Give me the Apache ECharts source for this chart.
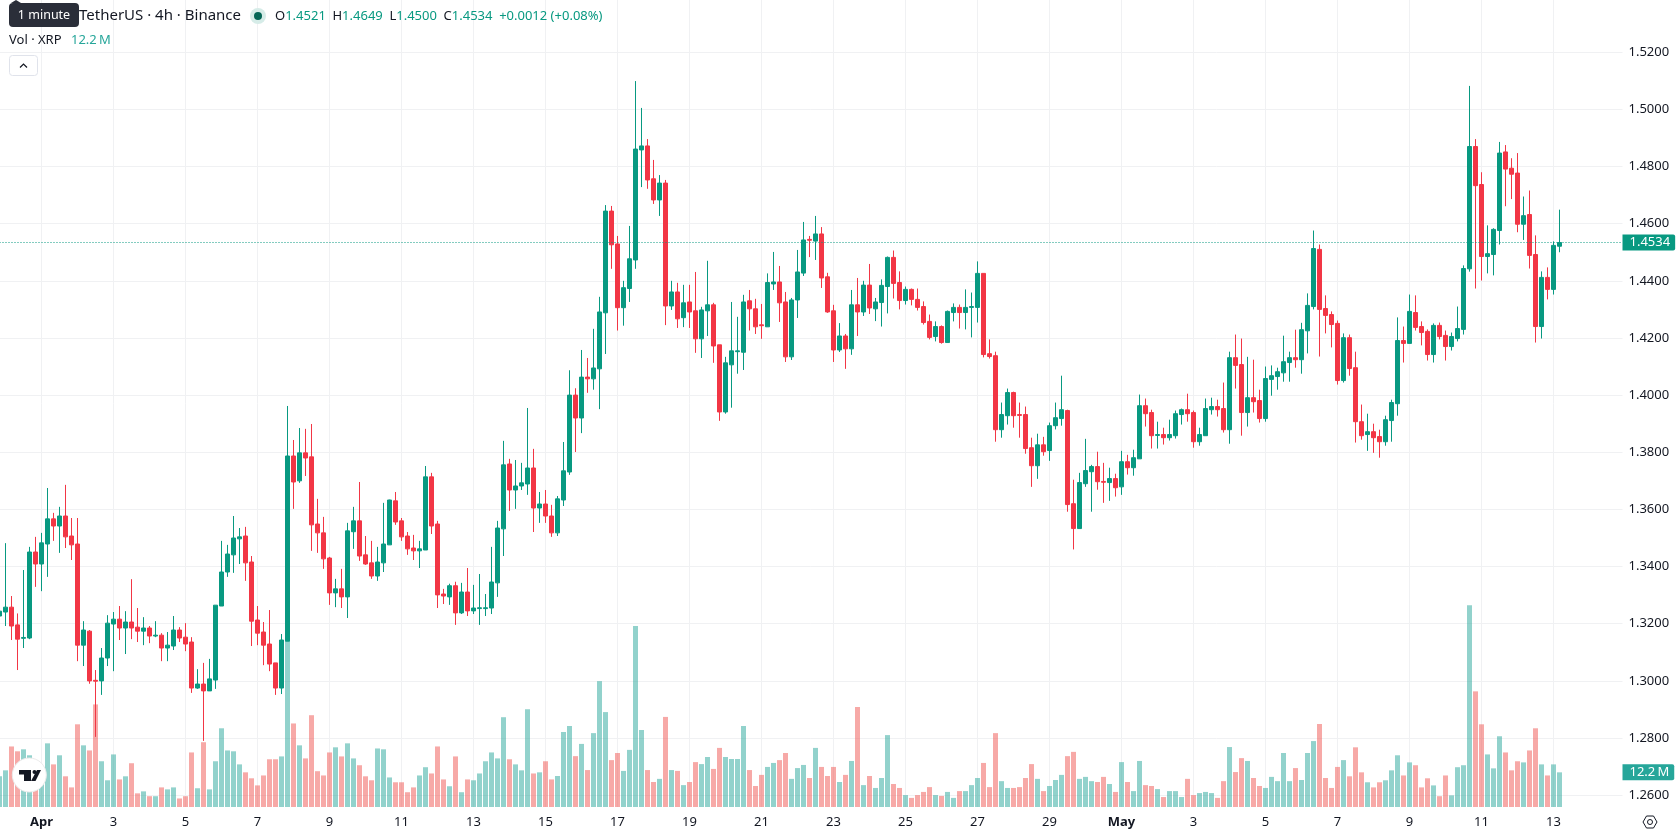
<!DOCTYPE html>
<html>
<head>
<meta charset="utf-8">
<title>XRP / TetherUS 4h</title>
<style>html,body{margin:0;padding:0;background:#fff}#chart{width:1678px;height:835px}</style>
<script src="https://cdn.jsdelivr.net/npm/echarts@6/dist/echarts.min.js"></script>
</head>
<body>
<div id="chart"></div>
<script>
// XRP/USDT four-hour candles, one row per ten bars.
const opens = [
1.3227,1.3241,1.3258,1.3196,1.3149,1.3150,1.3451,1.3409,1.3479,1.3567,
1.3542,1.3577,1.3507,1.3479,1.3125,1.3174,1.3002,1.3000,1.3080,1.3199,
1.3216,1.3185,1.3206,1.3188,1.3174,1.3185,1.3157,1.3160,1.3115,1.3122,
1.3178,1.3153,1.3136,1.2975,1.2989,1.2965,1.3003,1.3262,1.3381,1.3441,
1.3497,1.3507,1.3416,1.3213,1.3171,1.3129,1.3063,1.2975,1.3139,1.3787,
1.3700,1.3798,1.3784,1.3549,1.3518,1.3430,1.3308,1.3322,1.3294,1.3522,
1.3560,1.3441,1.3413,1.3367,1.3413,1.3476,1.3630,1.3560,1.3507,1.3465,
1.3455,1.3458,1.3714,1.3549,1.3304,1.3294,1.3333,1.3238,1.3311,1.3245,
1.3253,1.3253,1.3255,1.3343,1.3532,1.3759,1.3668,1.3682,1.3689,1.3745,
1.3605,1.3619,1.3577,1.3518,1.3633,1.3731,1.4000,1.3920,1.4063,1.4057,
1.4092,1.4288,1.4644,1.4529,1.4306,1.4373,1.4473,1.4858,1.4872,1.4757,
1.4683,1.4742,1.4312,1.4361,1.4271,1.4326,1.4295,1.4197,1.4295,1.4316,
1.4176,1.3941,1.4106,1.4152,1.4150,1.4330,1.4302,1.4246,1.4239,1.4389,
1.4396,1.4326,1.4134,1.4333,1.4427,1.4545,1.4539,1.4564,1.4414,1.4295,
1.4158,1.4207,1.4162,1.4316,1.4291,1.4385,1.4302,1.4324,1.4380,1.4482,
1.4394,1.4331,1.4370,1.4335,1.4310,1.4258,1.4205,1.4240,1.4184,1.4289,
1.4307,1.4289,1.4307,1.4307,1.4426,1.4145,1.4138,1.3879,1.3928,1.4009,
1.3932,1.3932,1.3816,1.3753,1.3826,1.3806,1.3893,1.3918,1.3946,1.3620,
1.3533,1.3690,1.3732,1.3750,1.3698,1.3694,1.3708,1.3679,1.3767,1.3746,
1.3777,1.3963,1.3939,1.3859,1.3862,1.3851,1.3858,1.3932,1.3949,1.3939,
1.3837,1.3858,1.3949,1.3960,1.3953,1.3879,1.4131,1.4107,1.3939,1.3991,
1.3981,1.3918,1.4055,1.4065,1.4078,1.4114,1.4131,1.4124,1.4225,1.4310,
1.4510,1.4303,1.4282,1.4251,1.4051,1.4201,1.4096,1.3907,1.3862,1.3872,
1.3855,1.3837,1.3911,1.3970,1.4191,1.4181,1.4289,1.4240,1.4223,1.4142,
1.4244,1.4209,1.4170,1.4198,1.4230,1.4442,1.4870,1.4737,1.4485,1.4492,
1.4576,1.4851,1.4794,1.4777,1.4598,1.4632,1.4492,1.4240,1.4412,1.4370,
1.4521];
const closes = [
1.3244,1.3258,1.3192,1.3146,1.3152,1.3451,1.3409,1.3483,1.3567,1.3542,
1.3577,1.3504,1.3476,1.3125,1.3178,1.3000,1.2999,1.3080,1.3202,1.3216,
1.3185,1.3206,1.3185,1.3174,1.3185,1.3157,1.3160,1.3115,1.3125,1.3178,
1.3150,1.3129,1.2975,1.2989,1.2965,1.3007,1.3265,1.3381,1.3444,1.3500,
1.3504,1.3413,1.3209,1.3167,1.3125,1.3059,1.2975,1.3143,1.3787,1.3696,
1.3798,1.3780,1.3546,1.3518,1.3427,1.3308,1.3322,1.3294,1.3525,1.3560,
1.3437,1.3409,1.3367,1.3416,1.3479,1.3633,1.3556,1.3504,1.3462,1.3455,
1.3462,1.3714,1.3542,1.3301,1.3297,1.3333,1.3238,1.3311,1.3245,1.3255,
1.3256,1.3256,1.3346,1.3535,1.3756,1.3668,1.3682,1.3693,1.3745,1.3605,
1.3619,1.3577,1.3518,1.3637,1.3735,1.4000,1.3920,1.4063,1.4057,1.4095,
1.4291,1.4644,1.4526,1.4306,1.4376,1.4477,1.4861,1.4872,1.4753,1.4683,
1.4742,1.4312,1.4361,1.4267,1.4323,1.4291,1.4197,1.4298,1.4316,1.4172,
1.3941,1.4113,1.4155,1.4155,1.4326,1.4302,1.4239,1.4243,1.4394,1.4396,
1.4323,1.4134,1.4333,1.4431,1.4543,1.4542,1.4564,1.4410,1.4291,1.4158,
1.4207,1.4162,1.4316,1.4291,1.4385,1.4305,1.4326,1.4384,1.4482,1.4391,
1.4331,1.4370,1.4335,1.4307,1.4254,1.4202,1.4240,1.4184,1.4293,1.4307,
1.4289,1.4307,1.4310,1.4426,1.4142,1.4135,1.3879,1.3932,1.4009,1.3928,
1.3929,1.3813,1.3753,1.3826,1.3802,1.3893,1.3921,1.3949,1.3617,1.3533,
1.3694,1.3736,1.3750,1.3697,1.3695,1.3708,1.3676,1.3767,1.3746,1.3781,
1.3963,1.3935,1.3858,1.3862,1.3851,1.3862,1.3935,1.3949,1.3935,1.3837,
1.3862,1.3953,1.3960,1.3949,1.3879,1.4131,1.4104,1.3939,1.3991,1.3977,
1.3918,1.4058,1.4068,1.4082,1.4117,1.4131,1.4124,1.4229,1.4314,1.4513,
1.4300,1.4279,1.4247,1.4051,1.4201,1.4093,1.3907,1.3858,1.3872,1.3851,
1.3837,1.3914,1.3974,1.4191,1.4181,1.4293,1.4237,1.4219,1.4142,1.4244,
1.4205,1.4170,1.4205,1.4233,1.4443,1.4870,1.4733,1.4485,1.4495,1.4580,
1.4847,1.4791,1.4773,1.4598,1.4628,1.4489,1.4240,1.4412,1.4370,1.4524,
1.4534];
const highs = [
1.3270,1.3482,1.3297,1.3236,1.3388,1.3469,1.3504,1.3518,1.3675,1.3588,
1.3609,1.3686,1.3570,1.3570,1.3209,1.3178,1.3038,1.3115,1.3230,1.3241,
1.3262,1.3244,1.3356,1.3255,1.3223,1.3192,1.3209,1.3167,1.3171,1.3227,
1.3188,1.3202,1.3153,1.3041,1.3063,1.3077,1.3265,1.3490,1.3476,1.3577,
1.3535,1.3539,1.3437,1.3262,1.3206,1.3248,1.3063,1.3164,1.3962,1.3843,
1.3885,1.3882,1.3899,1.3637,1.3574,1.3434,1.3357,1.3392,1.3553,1.3609,
1.3696,1.3507,1.3490,1.3469,1.3623,1.3634,1.3661,1.3570,1.3521,1.3511,
1.3490,1.3752,1.3728,1.3560,1.3322,1.3340,1.3347,1.3343,1.3395,1.3336,
1.3374,1.3304,1.3469,1.3560,1.3840,1.3777,1.3773,1.3763,1.3955,1.3812,
1.3661,1.3668,1.3616,1.3647,1.3836,1.4087,1.4024,1.4158,1.4130,1.4232,
1.4344,1.4665,1.4662,1.4557,1.4400,1.4592,1.5099,1.5005,1.4896,1.4823,
1.4770,1.4753,1.4400,1.4393,1.4386,1.4386,1.4431,1.4309,1.4470,1.4323,
1.4176,1.4134,1.4326,1.4274,1.4351,1.4368,1.4337,1.4319,1.4426,1.4501,
1.4452,1.4361,1.4340,1.4508,1.4606,1.4557,1.4627,1.4588,1.4428,1.4316,
1.4252,1.4214,1.4368,1.4410,1.4400,1.4459,1.4340,1.4405,1.4485,1.4506,
1.4433,1.4380,1.4373,1.4373,1.4328,1.4282,1.4258,1.4244,1.4296,1.4321,
1.4317,1.4370,1.4359,1.4468,1.4426,1.4195,1.4152,1.3974,1.4023,1.4012,
1.3974,1.3960,1.3851,1.3865,1.3854,1.3904,1.3974,1.4068,1.3949,1.3704,
1.3728,1.3847,1.3756,1.3802,1.3763,1.3746,1.3725,1.3805,1.3791,1.3809,
1.4002,1.3988,1.3949,1.3907,1.3886,1.3914,1.3946,1.3953,1.4005,1.3946,
1.3886,1.3988,1.3991,1.3984,1.4044,1.4152,1.4212,1.4198,1.4134,1.4124,
1.4019,1.4100,1.4104,1.4096,1.4208,1.4152,1.4229,1.4253,1.4356,1.4576,
1.4527,1.4349,1.4293,1.4261,1.4216,1.4212,1.4152,1.3967,1.3935,1.3900,
1.3879,1.3928,1.3984,1.4272,1.4240,1.4352,1.4349,1.4258,1.4230,1.4251,
1.4254,1.4226,1.4219,1.4310,1.4454,1.5082,1.4896,1.4780,1.4594,1.4584,
1.4886,1.4875,1.4829,1.4847,1.4695,1.4716,1.4559,1.4433,1.4447,1.4538,
1.4649];
const lows = [
1.3200,1.3192,1.3143,1.3038,1.3115,1.3146,1.3329,1.3314,1.3364,1.3490,
1.3448,1.3465,1.3423,1.3069,1.3052,1.2990,1.2804,1.2951,1.3052,1.3034,
1.3143,1.3094,1.3146,1.3136,1.3125,1.3132,1.3153,1.3069,1.3069,1.3108,
1.3136,1.3104,1.2958,1.2972,1.2790,1.2965,1.2972,1.3262,1.3364,1.3378,
1.3409,1.3350,1.3122,1.3125,1.3055,1.3034,1.2951,1.2954,1.3139,1.3602,
1.3693,1.3717,1.3455,1.3448,1.3392,1.3266,1.3258,1.3255,1.3220,1.3462,
1.3420,1.3406,1.3357,1.3350,1.3381,1.3476,1.3546,1.3490,1.3441,1.3423,
1.3395,1.3458,1.3514,1.3255,1.3269,1.3266,1.3196,1.3234,1.3227,1.3234,
1.3196,1.3227,1.3234,1.3294,1.3437,1.3595,1.3602,1.3668,1.3651,1.3521,
1.3553,1.3553,1.3504,1.3507,1.3612,1.3721,1.3801,1.3867,1.4008,1.4019,
1.3951,1.4144,1.4442,1.4226,1.4243,1.4326,1.4442,1.4728,1.4722,1.4669,
1.4627,1.4245,1.4298,1.4235,1.4238,1.4235,1.4148,1.4130,1.4207,1.4113,
1.3910,1.3935,1.3956,1.4075,1.4088,1.4226,1.4214,1.4197,1.4239,1.4368,
1.4256,1.4116,1.4123,1.4270,1.4417,1.4483,1.4473,1.4375,1.4288,1.4116,
1.4151,1.4092,1.4141,1.4207,1.4277,1.4284,1.4259,1.4240,1.4286,1.4338,
1.4300,1.4317,1.4314,1.4296,1.4247,1.4195,1.4188,1.4180,1.4184,1.4258,
1.4233,1.4230,1.4202,1.4254,1.4132,1.4128,1.3837,1.3851,1.3897,1.3886,
1.3851,1.3795,1.3679,1.3707,1.3788,1.3770,1.3880,1.3893,1.3592,1.3460,
1.3533,1.3679,1.3592,1.3669,1.3623,1.3630,1.3645,1.3651,1.3722,1.3718,
1.3777,1.3890,1.3813,1.3813,1.3827,1.3841,1.3848,1.3897,1.3907,1.3816,
1.3823,1.3858,1.3932,1.3925,1.3869,1.3830,1.4023,1.3858,1.3890,1.3939,
1.3904,1.3907,1.3998,1.4019,1.4047,1.4047,1.4096,1.4075,1.4146,1.4300,
1.4135,1.4216,1.4167,1.4037,1.4044,1.4068,1.3834,1.3844,1.3805,1.3798,
1.3781,1.3823,1.3837,1.3928,1.4114,1.4181,1.4226,1.4174,1.4121,1.4114,
1.4195,1.4121,1.4156,1.4188,1.4212,1.4432,1.4373,1.4401,1.4426,1.4419,
1.4527,1.4661,1.4686,1.4570,1.4543,1.4443,1.4184,1.4198,1.4335,1.4352,
1.4500];
// Traded volume of each bar, in millions of XRP.
const volumes = [
10.8,12.9,21.3,19.6,20.3,18.2,10.6,10.6,22.4,15.0,
18.2,10.8,6.9,29.1,21.7,19.9,36.1,16.1,9.4,18.5,
9.7,10.8,15.4,4.8,5.5,3.8,3.8,6.9,6.2,6.9,
3.0,3.8,19.2,6.6,22.8,6.2,16.1,27.7,19.9,19.6,
15.0,12.2,10.1,7.6,11.1,16.8,16.8,17.8,58.4,29.4,
21.7,17.1,32.3,12.6,11.1,19.2,21.0,17.8,22.4,17.1,
14.7,10.8,9.4,20.6,20.3,10.4,8.7,8.7,5.2,6.9,
11.1,14.0,11.8,21.3,9.7,7.3,17.8,5.2,9.7,9.4,
11.8,16.1,19.2,17.1,31.6,16.8,15.0,12.9,34.4,11.8,
12.2,16.1,9.7,10.9,26.4,28.5,17.9,22.2,13.0,26.0,
44.3,33.4,16.5,19.0,12.7,20.1,63.7,27.1,13.0,8.8,
9.9,31.7,13.0,12.7,7.7,8.8,15.8,15.1,17.6,13.4,
20.8,17.6,16.9,16.9,28.5,13.0,7.4,11.3,14.1,15.5,
16.5,19.0,9.9,13.7,14.8,10.2,20.8,14.1,10.9,14.1,
8.8,11.3,16.2,35.2,7.7,10.9,6.7,10.2,25.3,8.1,
6.7,4.2,3.2,4.2,5.3,7.0,4.2,3.9,5.3,3.2,
5.6,5.6,7.7,10.2,15.5,7.0,26.0,9.1,6.7,6.7,
7.0,10.2,15.1,9.9,5.6,7.4,9.5,11.3,17.9,19.4,
9.9,10.6,9.1,8.8,10.6,8.1,5.3,15.8,8.8,5.6,
16.2,7.7,7.4,6.3,3.5,5.6,5.6,3.5,9.9,4.2,
4.9,5.3,4.9,3.2,9.1,21.1,12.3,17.2,16.2,10.2,
7.4,6.7,10.6,9.1,19.0,9.1,13.7,9.5,19.0,23.2,
29.2,10.2,6.7,14.1,16.5,10.8,21.0,12.2,8.7,6.9,
8.7,9.4,12.9,18.2,11.1,15.7,14.7,6.9,10.1,7.6,
3.8,11.1,4.1,14.0,14.7,71.0,40.7,29.1,18.5,13.6,
24.9,19.2,12.9,16.1,15.7,19.9,27.7,15.0,11.1,15.0,
12.2];
// Date labels shown every twelfth bar (two days), beginning at 1 April.
const dateLabels = ['Apr','3','5','7','9','11','13','15','17','19','21','23','25','27','29','May','3','5','7','9','11','13'];
const firstLabelBar = 7;
const barsPerLabel = 12;
const slotCount = 271; // bars plus the empty margin before the price scale

const isLabelSlot = i => i >= firstLabelBar && (i - firstLabelBar) % barsPerLabel === 0;
const categories = Array.from({length: slotCount}, (_, i) =>
  isLabelSlot(i) ? (dateLabels[(i - firstLabelBar) / barsPerLabel] || '') : '');

const UP = '#089981', DOWN = '#F23645';
const VOL_UP = 'rgba(38,166,154,0.5)', VOL_DOWN = 'rgba(239,83,80,0.5)';
const FONT = '"Noto Sans", sans-serif';
const INK = '#131722';
const GRID = '#f0f1f3';

const candles = opens.map((o, i) => [o, closes[i], lows[i], highs[i]]);
const volumeBars = volumes.map((v, i) => ({
  value: v,
  itemStyle: {color: closes[i] >= opens[i] ? VOL_UP : VOL_DOWN}
}));
const lastClose = closes[closes.length - 1];
const lastVolume = volumes[volumes.length - 1];

const chart = echarts.init(document.getElementById('chart'), null, {renderer: 'canvas'});

chart.setOption({
  animation: false,
  backgroundColor: '#ffffff',
  textStyle: {fontFamily: FONT},
  grid: [
    {left: -3.5, width: 1626, top: 52.2, height: 743, outerBoundsMode: 'none'},
    {left: -3.5, width: 1626, top: 0, height: 807, outerBoundsMode: 'none'}
  ],
  xAxis: [
    {gridIndex: 0, type: 'category', data: categories, axisLine: {show: false},
     axisTick: {show: false}, axisLabel: {show: false}, splitLine: {show: false}},
    {gridIndex: 1, type: 'category', data: categories, axisLine: {show: false},
     axisTick: {show: false},
     axisLabel: {
       interval: (i) => isLabelSlot(i), margin: 9, color: INK, fontSize: 13, fontFamily: FONT,
       hideOverlap: false,
       formatter: (v) => (v === 'Apr' || v === 'May') ? '{b|' + v + '}' : v,
       rich: {b: {fontWeight: 700, fontSize: 13, color: INK, fontFamily: FONT}}
     },
     splitLine: {show: true, alignWithLabel: true, interval: (i) => isLabelSlot(i),
       lineStyle: {color: GRID, width: 1}}}
  ],
  yAxis: [
    {gridIndex: 0, type: 'value', position: 'right', min: 1.26, max: 1.52, interval: 0.02,
     axisLine: {show: false}, axisTick: {show: false},
     axisLabel: {color: INK, fontSize: 13, fontFamily: FONT, margin: 6,
       formatter: (v) => v.toFixed(4)},
     splitLine: {show: true, lineStyle: {color: GRID, width: 1}}},
    {gridIndex: 1, type: 'value', min: 0, max: 284, show: false, splitLine: {show: false}}
  ],
  series: [
    {
      name: 'Volume', type: 'bar', xAxisIndex: 1, yAxisIndex: 1, z: 2,
      barWidth: 5, data: volumeBars, silent: true,
      markLine: {
        silent: true, symbol: 'none', animation: false, precision: 4,
        lineStyle: {color: 'rgba(0,0,0,0)', width: 1},
        data: [{yAxis: lastVolume}],
        label: {
          show: true, opacity: 1,
          position: 'end', distance: 0, color: '#fff', fontSize: 13, fontFamily: FONT,
          backgroundColor: '#26a69a', borderRadius: [0, 2, 2, 0],
          padding: [2, 5, 1, 7], formatter: () => lastVolume.toFixed(1) + '\u2009M'
        }
      }
    },
    {
      name: 'XRPUSDT', type: 'candlestick', xAxisIndex: 0, yAxisIndex: 0, z: 3,
      barWidth: 4, data: candles, silent: true,
      itemStyle: {color: UP, color0: DOWN, borderColor: UP, borderColor0: DOWN,
        borderColorDoji: UP, borderWidth: 1},
      markLine: {
        silent: true, symbol: 'none', animation: false, precision: 4,
        lineStyle: {color: UP, type: [1, 2], width: 1},
        data: [{yAxis: lastClose}],
        label: {
          position: 'end', distance: 0, color: '#fff', fontSize: 13, fontFamily: FONT,
          backgroundColor: UP, borderRadius: [0, 2, 2, 0],
          padding: [2, 5, 1, 7], formatter: () => lastClose.toFixed(4)
        }
      }
    }
  ],
  graphic: [
    // Instrument header
    {type: 'text', z: 20, style: {x: 241, y: 16, text: 'XRP / TetherUS · 4h · Binance',
      align: 'right', verticalAlign: 'middle', fill: INK, font: '15px ' + FONT}},
    {type: 'circle', z: 20, shape: {cx: 258, cy: 16, r: 8}, style: {fill: '#d6ece8'}},
    {type: 'circle', z: 20, shape: {cx: 258, cy: 16, r: 4}, style: {fill: '#056656'}},
    {type: 'text', z: 20, style: {x: 275, y: 16, verticalAlign: 'middle',
      rich: {
        k: {fill: INK, font: '13px ' + FONT},
        v: {fill: UP, font: '13px ' + FONT}
      },
      text: '{k|O}{v|1.4521}  {k|H}{v|1.4649}  {k|L}{v|1.4500}  {k|C}{v|1.4534}  {v|+0.0012 (+0.08%)}'}},
    {type: 'text', z: 20, style: {x: 9, y: 40.5, text: 'Vol · XRP', verticalAlign: 'middle',
      fill: INK, font: '13px ' + FONT}},
    {type: 'text', z: 20, style: {x: 71, y: 40.5, text: '12.2\u2009M', verticalAlign: 'middle',
      fill: '#26a69a', font: '13px ' + FONT}},
    // Collapse button
    {type: 'rect', z: 20, shape: {x: 9.5, y: 55.5, width: 28, height: 20, r: 3},
      style: {fill: '#fff', stroke: '#e0e3eb', lineWidth: 1}},
    {type: 'polyline', z: 21, shape: {points: [[20, 67.5], [23.5, 64], [27, 67.5]]},
      style: {stroke: INK, lineWidth: 1.2, fill: 'none'}},
    // Hover tooltip over the symbol name
    {type: 'polygon', z: 30, shape: {points: [[11, 3], [16, 0], [21, 3]]}, style: {fill: '#2a2e39'}},
    {type: 'rect', z: 30, shape: {x: 9, y: 3, width: 70, height: 24, r: 4}, style: {fill: '#2a2e39'}},
    {type: 'text', z: 31, style: {x: 44, y: 15.5, text: '1 minute', align: 'center',
      verticalAlign: 'middle', fill: '#fff', font: '12.5px ' + FONT}},
    // Watermark badge
    {type: 'circle', z: 20, shape: {cx: 29.3, cy: 775, r: 17},
      style: {fill: '#fff', stroke: '#ebebeb', lineWidth: 1}},
    {type: 'polygon', z: 21, shape: {points: [[19, 770], [31, 770], [31, 781], [24, 781], [24, 774.5], [19, 774.5]]},
      style: {fill: '#131722'}},
    {type: 'circle', z: 21, shape: {cx: 34.5, cy: 772, r: 2}, style: {fill: '#131722'}},
    {type: 'polygon', z: 21, shape: {points: [[37, 770], [41, 770], [35.5, 781], [31, 781]]},
      style: {fill: '#131722'}},
    // Settings glyph under the price scale
    {type: 'polygon', z: 20, shape: {points: [[1643, 822], [1646.5, 816], [1653.5, 816], [1657, 822], [1653.5, 828], [1646.5, 828]]},
      style: {fill: 'none', stroke: INK, lineWidth: 1}},
    {type: 'circle', z: 20, shape: {cx: 1650, cy: 822, r: 2.5}, style: {fill: 'none', stroke: INK, lineWidth: 1}}
  ]
});
</script>
</body>
</html>
